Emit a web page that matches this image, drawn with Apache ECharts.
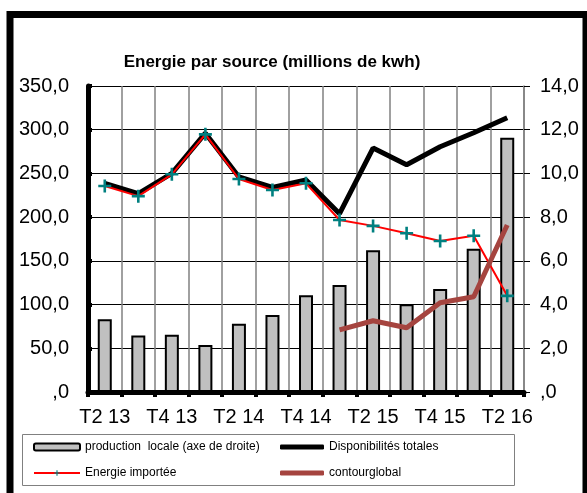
<!DOCTYPE html>
<html>
<head>
<meta charset="utf-8">
<script src="https://cdn.jsdelivr.net/npm/echarts@6/dist/echarts.min.js"></script>
<style>
  html, body { margin: 0; padding: 0; background: #fff; }
  #chart { width: 587px; height: 493px; }
</style>
</head>
<body>
<div id="chart"></div>
<script>
// Quarters (T = trimestre)
const categories = ['T2 13', 'T3 13', 'T4 13', 'T1 14', 'T2 14', 'T3 14', 'T4 14',
                    'T1 15', 'T2 15', 'T3 15', 'T4 15', 'T1 16', 'T2 16'];

// Local production, right axis
const productionLocale = [3.33, 2.59, 2.62, 2.15, 3.12, 3.52, 4.43, 4.89, 6.49, 4.02, 4.71, 6.55, 11.63];

// Total availability, left axis
const disponibilites = [238.7, 227, 250, 296, 246, 234, 242.5, 204, 279, 260, 280.5, 296.5, 313.7];

// Imported energy, left axis
const energieImportee = [235.6, 224, 249, 294.7, 243.6, 231, 238.7, 196.7, 190, 181.5, 172.7, 178.8, 110];

// ContourGlobal plant output, right axis (starts T1 15)
const contourGlobal = [null, null, null, null, null, null, null, 2.84, 3.26, 2.94, 4.08, 4.36, 7.64];

// Axis ranges
const leftMax = 350, leftStep = 50;
const rightMax = 14, rightStep = 2;

const FONT = 'Liberation Sans, Arial, sans-serif';
const fmt = v => v === 0 ? ',0' : v.toFixed(1).replace('.', ',');
const plusPath = 'path://M4,0h2v4h4v2h-4v4h-2v-4h-4v-2h4z';

const chart = echarts.init(document.getElementById('chart'), null, { renderer: 'canvas' });

chart.setOption({
  backgroundColor: '#ffffff',
  animation: false,
  title: {
    text: 'Energie par source (millions de kwh)',
    left: 267,
    top: 49,
    textAlign: 'center',
    textStyle: { fontFamily: FONT, fontSize: 17, fontWeight: 'bold', color: '#000' }
  },
  grid: { left: 88, right: 63, top: 86, bottom: 101, containLabel: false },
  legend: [
    {
      orient: 'vertical',
      left: 33,
      top: 441,
      padding: 0,
      itemWidth: 46,
      itemHeight: 7,
      itemGap: 14,
      textStyle: { fontFamily: FONT, fontSize: 12, color: '#000' },
      data: ['production  locale (axe de droite)', 'Energie importée']
    },
    {
      orient: 'vertical',
      left: 280,
      top: 441,
      padding: 0,
      icon: 'roundRect',
      itemWidth: 44,
      itemHeight: 5,
      itemGap: 14,
      textStyle: { fontFamily: FONT, fontSize: 12, color: '#000' },
      data: ['Disponibilités totales', 'contourglobal']
    }
  ],
  graphic: [
    {
      type: 'rect',
      shape: { x: 22.5, y: 434.5, width: 492, height: 51 },
      style: { fill: 'none', stroke: '#808080', lineWidth: 1 },
      z: -1
    },
    {
      type: 'rect',
      shape: { x: 10, y: 14.5, width: 576, height: 520 },
      style: { fill: 'none', stroke: '#000', lineWidth: 7 },
      z: 100
    }
  ],
  xAxis: {
    type: 'category',
    data: categories,
    boundaryGap: true,
    axisLine: { show: true, lineStyle: { color: '#000', width: 5 } },
    axisTick: { show: true, interval: 0, length: 5, lineStyle: { color: '#000', width: 4 } },
    axisLabel: { interval: 1, margin: 15, fontFamily: FONT, fontSize: 20, color: '#000' },
    splitLine: { show: true, interval: 0, lineStyle: { color: '#808080', width: 1.5 } }
  },
  yAxis: [
    {
      type: 'value',
      min: 0,
      max: leftMax,
      interval: leftStep,
      position: 'left',
      axisLine: { show: true, lineStyle: { color: '#000', width: 5 } },
      axisTick: { show: true, inside: true, length: 4, lineStyle: { color: '#000', width: 4 } },
      axisLabel: { margin: 19, fontFamily: FONT, fontSize: 20, color: '#000', formatter: fmt },
      splitLine: { show: true, lineStyle: { color: '#000', width: 1 } }
    },
    {
      type: 'value',
      min: 0,
      max: rightMax,
      interval: rightStep,
      position: 'right',
      axisLine: { show: true, lineStyle: { color: '#808080', width: 1.5 } },
      axisTick: { show: true, length: 6, lineStyle: { color: '#000', width: 1 } },
      axisLabel: { margin: 16, fontFamily: FONT, fontSize: 20, color: '#000', formatter: fmt },
      splitLine: { show: false }
    }
  ],
  series: [
    {
      name: 'production  locale (axe de droite)',
      type: 'bar',
      yAxisIndex: 1,
      data: productionLocale,
      barWidth: 14,
      itemStyle: { color: '#C0C0C0', borderColor: '#000', borderWidth: 2 },
      z: 2
    },
    {
      name: 'Disponibilités totales',
      type: 'line',
      yAxisIndex: 0,
      data: disponibilites,
      symbol: 'none',
      lineStyle: { color: '#000', width: 5 },
      itemStyle: { color: '#000' },
      z: 3
    },
    {
      name: 'Energie importée',
      type: 'line',
      yAxisIndex: 0,
      data: energieImportee,
      symbol: plusPath,
      symbolSize: 13,
      showAllSymbol: true,
      lineStyle: { color: '#FF0000', width: 2 },
      itemStyle: { color: '#008080' },
      z: 4
    },
    {
      name: 'contourglobal',
      type: 'line',
      yAxisIndex: 1,
      data: contourGlobal,
      symbol: 'none',
      lineStyle: { color: '#A5443F', width: 5 },
      itemStyle: { color: '#A5443F' },
      z: 5
    }
  ]
});
</script>
</body>
</html>
